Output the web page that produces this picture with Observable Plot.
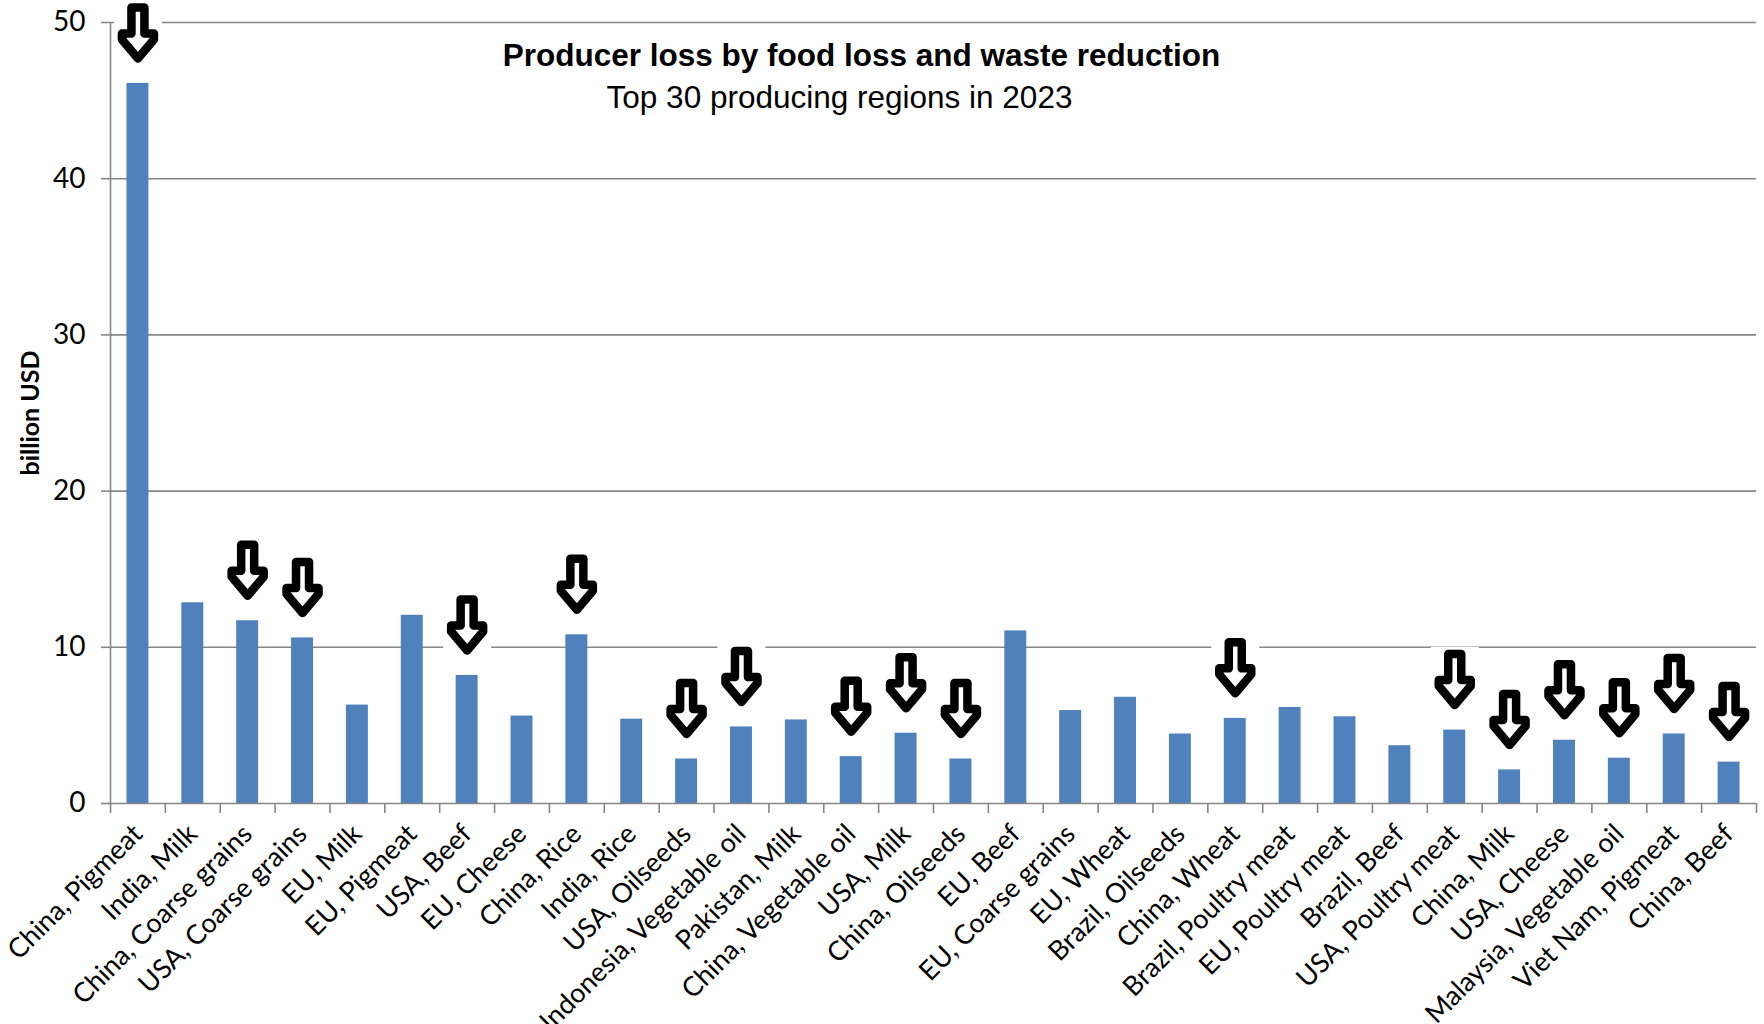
<!DOCTYPE html>
<html>
<head>
<meta charset="utf-8">
<script src="https://cdn.jsdelivr.net/npm/d3@7"></script>
<script src="https://cdn.jsdelivr.net/npm/@observablehq/plot@0.6"></script>
<style>
  html, body { margin: 0; padding: 0; background: #fff; }
</style>
</head>
<body>
<div id="chart"></div>
<script>
// Producer loss (billion USD) by region and product
const categories = [
  "China, Pigmeat", "India, Milk", "China, Coarse grains", "USA, Coarse grains",
  "EU, Milk", "EU, Pigmeat", "USA, Beef", "EU, Cheese", "China, Rice",
  "India, Rice", "USA, Oilseeds", "Indonesia, Vegetable oil", "Pakistan, Milk",
  "China, Vegetable oil", "USA, Milk", "China, Oilseeds", "EU, Beef",
  "EU, Coarse grains", "EU, Wheat", "Brazil, Oilseeds", "China, Wheat",
  "Brazil, Poultry meat", "EU, Poultry meat", "Brazil, Beef", "USA, Poultry meat",
  "China, Milk", "USA, Cheese", "Malaysia, Vegetable oil", "Viet Nam, Pigmeat",
  "China, Beef"
];
const values = [
  46.1, 12.85, 11.7, 10.6,
  6.3, 12.05, 8.2, 5.6, 10.8,
  5.4, 2.85, 4.9, 5.35,
  3.0, 4.5, 2.85, 11.05,
  5.95, 6.8, 4.45, 5.45,
  6.15, 5.55, 3.7, 4.7,
  2.15, 4.05, 2.9, 4.45,
  2.65
];
// products marked with a downward arrow
const flaggedCategories = [
  "China, Pigmeat", "China, Coarse grains", "USA, Coarse grains", "USA, Beef",
  "China, Rice", "USA, Oilseeds", "Indonesia, Vegetable oil", "China, Vegetable oil",
  "USA, Milk", "China, Oilseeds", "China, Wheat", "USA, Poultry meat", "China, Milk",
  "USA, Cheese", "Malaysia, Vegetable oil", "Viet Nam, Pigmeat", "China, Beef"
];
const yTicks = [0, 10, 20, 30, 40, 50];
const titleText = "Producer loss by food loss and waste reduction";
const subtitleText = "Top 30 producing regions in 2023";
const yLabelText = "billion USD";

const data = categories.map((category, i) => ({category, value: values[i]}));
const flagged = data.filter(d => flaggedCategories.includes(d.category));

const W = 1764, H = 1024;
const mL = 110, mR = 8, mT = 22, mB = 221;
const step = (W - mL - mR) / categories.length;
const gridColor = "#868686";
const labelFont = "Lato, 'Open Sans', sans-serif";
const titleFont = "'Liberation Sans', Arial, sans-serif";

// bold hollow down arrow, tip at the origin
const arrowShape = {
  draw(ctx) {
    ctx.moveTo(-6.5, -57);
    ctx.lineTo(6.5, -57);
    ctx.lineTo(6.5, -31);
    ctx.lineTo(16, -31);
    ctx.lineTo(16, -25);
    ctx.lineTo(0, -6);
    ctx.lineTo(-16, -25);
    ctx.lineTo(-16, -31);
    ctx.lineTo(-6.5, -31);
    ctx.closePath();
  }
};
// white backing behind each arrow
const arrowBacking = {
  draw(ctx) {
    ctx.rect(-24, -64, 48, 65);
  }
};

const chart = Plot.plot({
  width: W,
  height: H,
  marginLeft: mL,
  marginRight: mR,
  marginTop: mT,
  marginBottom: mB,
  style: {fontFamily: labelFont, fontSize: "27px", color: "#000", background: "#fff"},
  x: {domain: categories, paddingInner: 0.6, paddingOuter: 0.3, round: false, label: null},
  y: {domain: [0, 50], label: null},
  marks: [
    Plot.gridY(yTicks.filter(t => t > 0), {stroke: gridColor, strokeOpacity: 1, strokeWidth: 1.6}),
    Plot.barY(data, {x: "category", y: "value", fill: "#4f81bd"}),
    Plot.dot(flagged, {x: "category", y: "value", symbol: arrowBacking, fill: "#fff", stroke: null, dy: -19}),
    Plot.dot(flagged, {x: "category", y: "value", symbol: arrowShape, fill: "#fff", stroke: "#000",
      strokeWidth: 8.5, strokeLinejoin: "round", dy: -19}),
    // axis lines and boundary ticks
    Plot.ruleY([0], {stroke: gridColor, strokeWidth: 1.6}),
    Plot.ruleX([categories[0]], {x: d => d, dx: -step / 2, y1: 0, y2: 50, stroke: gridColor, strokeWidth: 1.6}),
    Plot.ruleX(categories, {x: d => d, dx: -step / 2, y1: 0, y2: 0, insetBottom: -10, stroke: gridColor, strokeWidth: 1.6}),
    Plot.ruleX([categories[categories.length - 1]], {x: d => d, dx: step / 2, y1: 0, y2: 0, insetBottom: -10, stroke: gridColor, strokeWidth: 1.6}),
    Plot.axisY({ticks: yTicks, tickSize: 9, tickPadding: 16, stroke: gridColor, strokeWidth: 1.6, label: null, fontSize: 28}),
    Plot.axisX({tickSize: 0, tickRotate: -45, tickPadding: 26, label: null, fontSize: 27}),
    Plot.text([yLabelText], {text: d => d, frameAnchor: "left", textAnchor: "middle", lineAnchor: "middle",
      dx: -80, rotate: -90, fontWeight: "bold", fontSize: 25, fill: "#000"}),
    Plot.text([titleText], {text: d => d, frameAnchor: "top", textAnchor: "middle", lineAnchor: "middle",
      dx: -72, dy: 33, fontFamily: titleFont, fontWeight: "bold", fontSize: 31.5, fill: "#000"}),
    Plot.text([subtitleText], {text: d => d, frameAnchor: "top", textAnchor: "middle", lineAnchor: "middle",
      dx: -94, dy: 75, fontFamily: titleFont, fontSize: 31.5, fill: "#000"})
  ]
});
document.getElementById("chart").appendChild(chart);
</script>
</body>
</html>
